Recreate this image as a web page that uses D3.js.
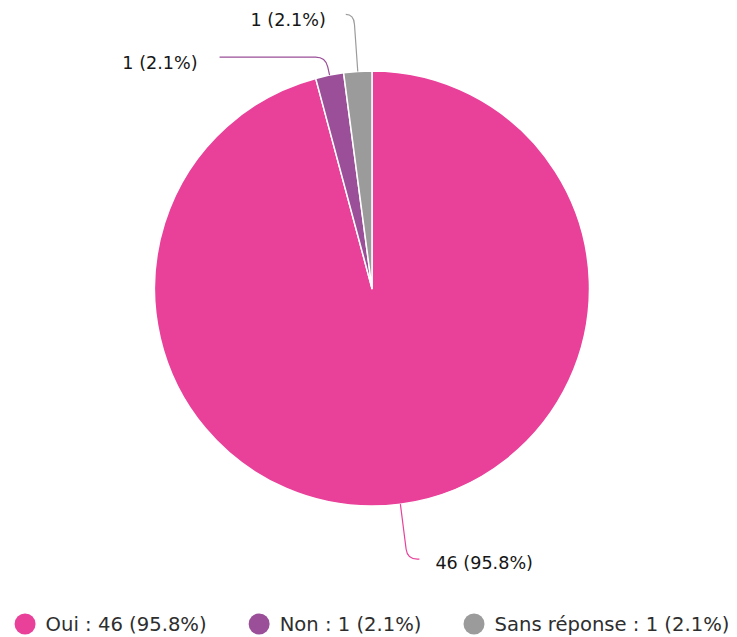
<!DOCTYPE html>
<html>
<head>
<meta charset="utf-8">
<script src="https://cdn.jsdelivr.net/npm/d3@7"></script>
<style>
  html, body { margin: 0; padding: 0; background: #fff; }
  svg { display: block; }
  text { font-family: "DejaVu Sans", Verdana, sans-serif; }
</style>
</head>
<body>
<svg id="chart" width="737" height="637"></svg>
<script>
// Survey answers
const categories = ["Oui", "Non", "Sans réponse"];
const counts = [46, 1, 1];
const percents = ["95.8%", "2.1%", "2.1%"];
const colors = ["#e9409a", "#9a4f98", "#9b9b9b"];

// Data label connector geometry per slice (corner offset from the slice edge,
// length of the horizontal run, side where the label sits)
const labelLayout = [
  { lean: 7,  rise: 55,  run: 12,  side: 1,  gap: 16, dy: 4 },
  { lean: -4, rise: -18, run: 106, side: -1, gap: 22, dy: 6 },
  { lean: -4, rise: -57, run: 8,   side: -1, gap: 20, dy: 5 }
];

const width = 737, height = 637;
const cx = 372, cy = 288.5, radius = 217.5;

const svg = d3.select("#chart");
const data = categories.map((c, i) => ({ name: c, value: counts[i], pct: percents[i], color: colors[i], layout: labelLayout[i] }));

const pie = d3.pie().value(d => d.value).sort(null);
const arc = d3.arc().innerRadius(0).outerRadius(radius);
const arcs = pie(data);

const g = svg.append("g").attr("transform", `translate(${cx},${cy})`);

g.selectAll("path.slice")
  .data(arcs)
  .enter().append("path")
  .attr("class", "slice")
  .attr("d", arc)
  .attr("fill", d => d.data.color)
  .attr("stroke", "#ffffff")
  .attr("stroke-width", 1.5)
  .attr("stroke-linejoin", "round");

// Data labels with bent connectors
arcs.forEach(a => {
  const mid = (a.startAngle + a.endAngle) / 2;
  const L = a.data.layout;
  const p0 = [Math.sin(mid) * radius, -Math.cos(mid) * radius];
  const c = [p0[0] + L.lean, p0[1] + L.rise];
  const p2 = [c[0] + L.side * L.run, c[1]];
  const bend = 10;
  const v = [p0[0] - c[0], p0[1] - c[1]];
  const vl = Math.hypot(v[0], v[1]);
  const b1 = [c[0] + v[0] / vl * bend, c[1] + v[1] / vl * bend];
  const hl = Math.min(bend, L.run);
  const b2 = [c[0] + L.side * hl, c[1]];
  const path = d3.path();
  path.moveTo(p0[0], p0[1]);
  path.lineTo(b1[0], b1[1]);
  path.quadraticCurveTo(c[0], c[1], b2[0], b2[1]);
  path.lineTo(p2[0], p2[1]);
  g.append("path")
    .attr("d", path.toString())
    .attr("fill", "none")
    .attr("stroke", a.data.color)
    .attr("stroke-width", 1.2);

  g.append("text")
    .attr("x", p2[0] + L.side * L.gap)
    .attr("y", p2[1] + L.dy)
    .attr("dy", "0.35em")
    .attr("text-anchor", L.side > 0 ? "start" : "end")
    .attr("font-size", 17.6)
    .attr("fill", "#161616")
    .text(`${a.data.value} (${a.data.pct})`);
});

// Legend, centred under the pie
const legend = svg.append("g").attr("class", "legend");
const legendY = 624;
const symR = 10.5, symGap = 10, itemGap = 42;
const items = legend.selectAll("g.item")
  .data(data)
  .enter().append("g").attr("class", "item");
items.append("circle")
  .attr("r", symR)
  .attr("fill", d => d.color);
items.append("text")
  .attr("x", symR + symGap)
  .attr("dy", "0.35em")
  .attr("font-size", 19.6)
  .attr("fill", "#2e2e2e")
  .text(d => `${d.name} : ${d.value} (${d.pct})`);

const widths = [];
items.each(function () {
  const t = d3.select(this).select("text").node().getComputedTextLength();
  widths.push(2 * symR + symGap + t);
});
const total = d3.sum(widths) + itemGap * (widths.length - 1);
let xPos = cx - total / 2;
items.each(function (d, i) {
  d3.select(this).attr("transform", `translate(${xPos + symR},${legendY})`);
  xPos += widths[i] + itemGap;
});
</script>
</body>
</html>
